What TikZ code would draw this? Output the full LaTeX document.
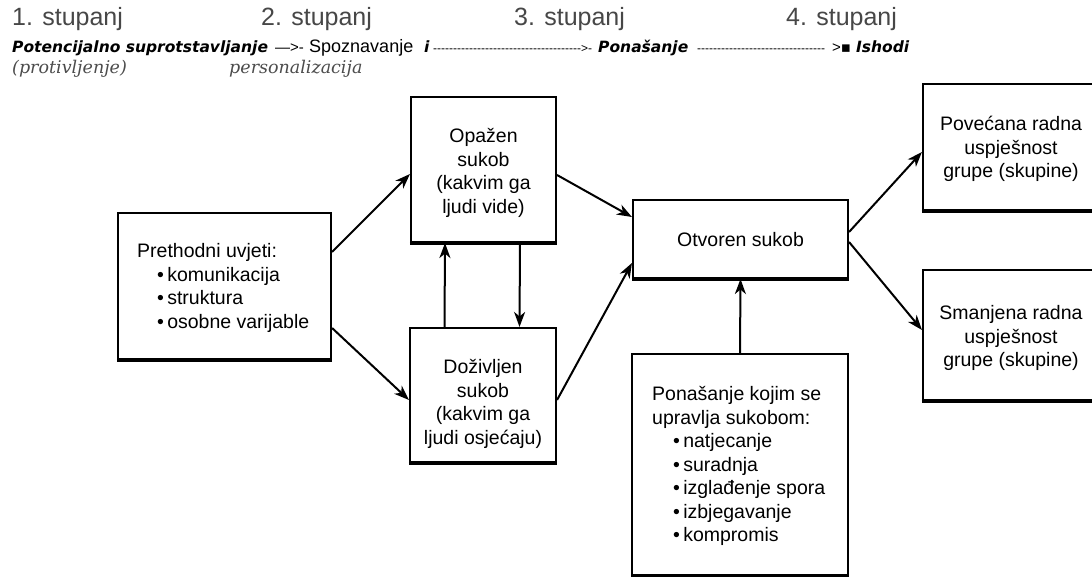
\documentclass[tikz,border=0pt]{standalone}
\usepackage{fontspec}
\setmainfont{Liberation Sans}
\newfontfamily\bifont{DejaVu Sans}
\newfontfamily\serifit{DejaVu Serif}
\usetikzlibrary{arrows.meta}
\begin{document}
\begin{tikzpicture}[x=1pt,y=-1pt,
  boxst/.style={draw, line width=2.1pt, rectangle, inner sep=0pt},
  txt/.style={inner sep=0pt, font=\fontsize{19.5}{23.5}\selectfont, align=center},
  arr/.style={line width=2pt, -{Stealth[length=15pt,width=11pt,inset=4.5pt]}},
  hdr/.style={inner sep=0pt, anchor=base west, font=\fontsize{25}{25}\selectfont, text=black!72},
  bi/.style={inner sep=0pt, anchor=base west, font=\bifont\bfseries\itshape\fontsize{15.5}{15.5}\selectfont},
  rg/.style={inner sep=0pt, anchor=base west, font=\fontsize{15}{15}\selectfont},
  sit/.style={inner sep=0pt, anchor=base west, font=\serifit\itshape\fontsize{17.5}{17.5}\selectfont, text=black!70},
  thick bottom/.style={line width=3pt}
]
\useasboundingbox (0,0) rectangle (1092,577);
\fill[white] (0,0) rectangle (1092,577);
\begin{scope}
\clip (0,0) rectangle (1092,577);

% header
\node[hdr] (s1) at (12,26) {1. stupanj};
\node[hdr] (s2) at (261,26) {2. stupanj};
\node[hdr] (s3) at (514,26) {3. stupanj};
\node[hdr] (s4) at (786,26) {4. stupanj};

% line 2
\node[bi] (p1) at (12,53) {Potencijalno suprotstavljanje};
\node[rg] (p2) at (275,53) {—>-};
\node[rg, font=\fontsize{18}{18}\selectfont] (p3) at (309,53) {Spoznavanje};
\node[bi] (p4) at (424,53) {i};
\node[rg, font=\fontsize{12}{12}\selectfont] (p5) at (433,53) {\makebox[148pt]{\leaders\hbox{-}\hfill}>-};
\node[bi] (p6) at (598,53) {Ponašanje};
\node[rg, font=\fontsize{12}{12}\selectfont] (p7) at (697,53) {\makebox[128pt]{\leaders\hbox{-}\hfill}};
\node[rg] (p8) at (832,53) {>{\bifont ▪}};
\node[bi] (p9) at (856,53) {Ishodi};

% line 3
\node[sit] (q1) at (12,74) {(protivljenje)};
\node[sit] (q2) at (229,74) {personalizacija};

% boxes
\node[boxst, minimum width=213pt, minimum height=146pt] (pre) at (224.5,286) {};
\node[boxst, minimum width=145pt, minimum height=145pt] (opa) at (483.5,169.5) {};
\node[boxst, minimum width=146pt, minimum height=134pt] (doz) at (483,395) {};
\node[boxst, minimum width=215pt, minimum height=78pt] (otv) at (740.5,239) {};
\node[boxst, minimum width=216pt, minimum height=221pt] (pon) at (740,464.5) {};
\node[boxst, minimum width=176pt, minimum height=126pt] (pov) at (1011,147) {};
\node[boxst, minimum width=176pt, minimum height=130pt] (sma) at (1011,335) {};

\foreach \b in {pre,opa,doz,otv,pon,pov,sma}
  \draw[thick bottom] (\b.south west) -- (\b.south east);

% texts
\node[txt, anchor=west, align=left] (pret) at (137,288) {Prethodni uvjeti:\\\hspace*{20pt}•\,komunikacija\\\hspace*{20pt}•\,struktura\\\hspace*{20pt}•\,osobne varijable};
\node[txt] (opat) at (483.5,173) {Opažen\\sukob\\(kakvim ga\\ljudi vide)};
\node[txt] (dozt) at (483,404) {Doživljen\\sukob\\(kakvim ga\\ljudi osjećaju)};
\node[txt] (otvt) at (740.5,240) {Otvoren sukob};
\node[txt, anchor=west, align=left] (pont) at (652,466) {Ponašanje kojim se\\upravlja sukobom:\\\hspace*{21pt}•\,natjecanje\\\hspace*{21pt}•\,suradnja\\\hspace*{21pt}•\,izglađenje spora\\\hspace*{21pt}•\,izbjegavanje\\\hspace*{21pt}•\,kompromis};
\node[txt] (povt) at (1011,149) {Povećana radna\\uspješnost\\grupe (skupine)};
\node[txt] (smat) at (1011,338) {Smanjena radna\\uspješnost\\grupe (skupine)};

% arrows
\draw[arr] ([yshift=34pt]pre.east) -- ([yshift=-4.5pt]opa.west);
\draw[arr] ([yshift=-42pt]pre.east) -- ([yshift=-5pt]doz.west);
\draw[arr] ([xshift=-38.5pt]doz.north) -- ([xshift=-38.5pt]opa.south);
\draw[arr] ([xshift=36.5pt]opa.south) -- ([xshift=36.5pt]doz.north);
\draw[arr] ([yshift=-5.5pt]opa.east) -- ([yshift=22pt]otv.west);
\draw[arr] ([yshift=-5pt]doz.east) -- ([yshift=-24pt]otv.west);
\draw[arr] (pon.north) -- (otv.south);
\draw[arr] ([yshift=7pt]otv.east) -- ([yshift=-5pt]pov.west);
\draw[arr] ([yshift=-3pt]otv.east) -- ([yshift=5pt]sma.west);
\end{scope}
\end{tikzpicture}
\end{document}
